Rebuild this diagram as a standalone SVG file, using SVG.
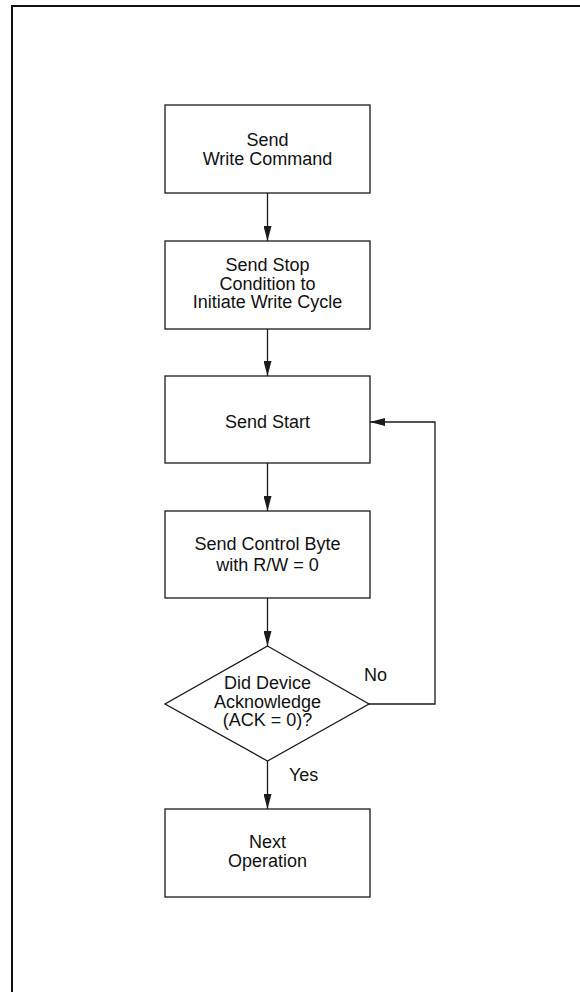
<svg xmlns="http://www.w3.org/2000/svg" width="580" height="992" viewBox="0 0 580 992">
<defs>
<style>
.box{fill:#fff;stroke:#1a1a1a;stroke-width:1.3}
.t{font-family:"Liberation Sans",Arial,Helvetica,sans-serif;font-size:18px;fill:#111;text-anchor:middle}
.lbl{font-family:"Liberation Sans",Arial,Helvetica,sans-serif;font-size:18px;fill:#111}
.c{fill:none;stroke:#1a1a1a;stroke-width:1.3}
</style>
<marker id="ah" markerUnits="userSpaceOnUse" markerWidth="16" markerHeight="8" refX="15" refY="4" orient="auto">
<path d="M0,0 L15,4 L0,8 z" fill="#1a1a1a"/>
</marker>
</defs>
<rect x="0" y="0" width="580" height="992" fill="#fff"/>
<rect id="frame" x="12" y="6" width="620" height="1020" fill="none" stroke="#111" stroke-width="2"/>

<g id="n1">
<rect class="box" x="165" y="105" width="205" height="88"/>
<text class="t" x="267.5" y="145.5">Send</text>
<text class="t" x="267.5" y="164.5">Write Command</text>
</g>
<g id="n2">
<rect class="box" x="165" y="241" width="205" height="88"/>
<text class="t" x="267.5" y="271">Send Stop</text>
<text class="t" x="267.5" y="289.5">Condition to</text>
<text class="t" x="267.5" y="308">Initiate Write Cycle</text>
</g>
<g id="n3">
<rect class="box" x="165" y="376" width="205" height="87"/>
<text class="t" x="267.5" y="427.5">Send Start</text>
</g>
<g id="n4">
<rect class="box" x="165" y="511" width="205" height="87"/>
<text class="t" x="267.5" y="550">Send Control Byte</text>
<text class="t" x="267.5" y="571">with R/W = 0</text>
</g>
<g id="n5">
<polygon class="box" points="267.5,646 369,704 267.5,761 165,704"/>
<text class="t" x="267.5" y="689">Did Device</text>
<text class="t" x="267.5" y="707.5">Acknowledge</text>
<text class="t" x="267.5" y="726">(ACK = 0)?</text>
</g>
<g id="n6">
<rect class="box" x="165" y="809" width="205" height="88"/>
<text class="t" x="267.5" y="848">Next</text>
<text class="t" x="267.5" y="866.5">Operation</text>
</g>

<g id="connectors">
<line class="c" x1="267.5" y1="193" x2="267.5" y2="241" marker-end="url(#ah)"/>
<line class="c" x1="267.5" y1="329" x2="267.5" y2="376" marker-end="url(#ah)"/>
<line class="c" x1="267.5" y1="463" x2="267.5" y2="511" marker-end="url(#ah)"/>
<line class="c" x1="267.5" y1="598" x2="267.5" y2="646" marker-end="url(#ah)"/>
<line class="c" x1="267.5" y1="761" x2="267.5" y2="809" marker-end="url(#ah)"/>
<polyline class="c" points="369,704 435,704 435,422 370,422" marker-end="url(#ah)"/>
<text class="lbl" x="364" y="681">No</text>
<text class="lbl" x="289" y="781">Yes</text>
</g>
</svg>
